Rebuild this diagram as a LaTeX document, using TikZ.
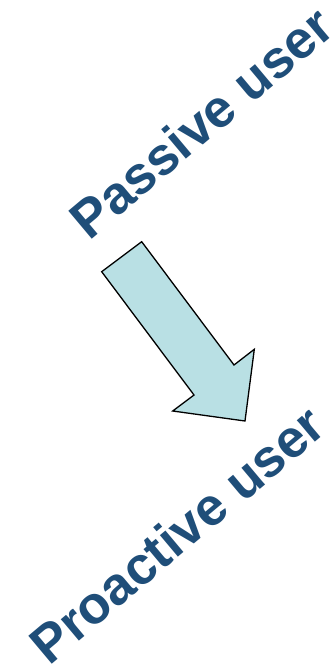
\documentclass[tikz,border=0pt]{standalone}
\usepackage{fontspec}
\setmainfont{Liberation Sans}
\definecolor{txtblue}{RGB}{31,78,121}
\definecolor{arrowfill}{RGB}{185,224,228}
\tikzset{
  lbl/.style={inner sep=0pt, outer sep=0pt, anchor=base west, rotate=40,
    text=txtblue, font=\fontsize{53pt}{62pt}\selectfont\bfseries},
  bigarrow/.style={draw=black, fill=arrowfill, line width=1.3pt, line join=miter}
}
\begin{document}
\begin{tikzpicture}[x=1pt,y=-1pt]
\useasboundingbox (0,0) rectangle (332,664);
\node[lbl] (passive) at (89,241) {Passive user};
\node[lbl] (proactive) at (49,666) {Proactive user};
\coordinate (a1) at (141.7,241.7);
\coordinate (a2) at (101.7,271.7);
\coordinate (a3) at (194,395);
\coordinate (a4) at (172.7,411);
\coordinate (a5) at (245,421);
\coordinate (a6) at (254.3,349.3);
\coordinate (a7) at (234,365);
\draw[bigarrow] (a1) -- (a2) -- (a3) -- (a4) -- (a5) -- (a6) -- (a7) -- cycle;
\end{tikzpicture}
\end{document}
